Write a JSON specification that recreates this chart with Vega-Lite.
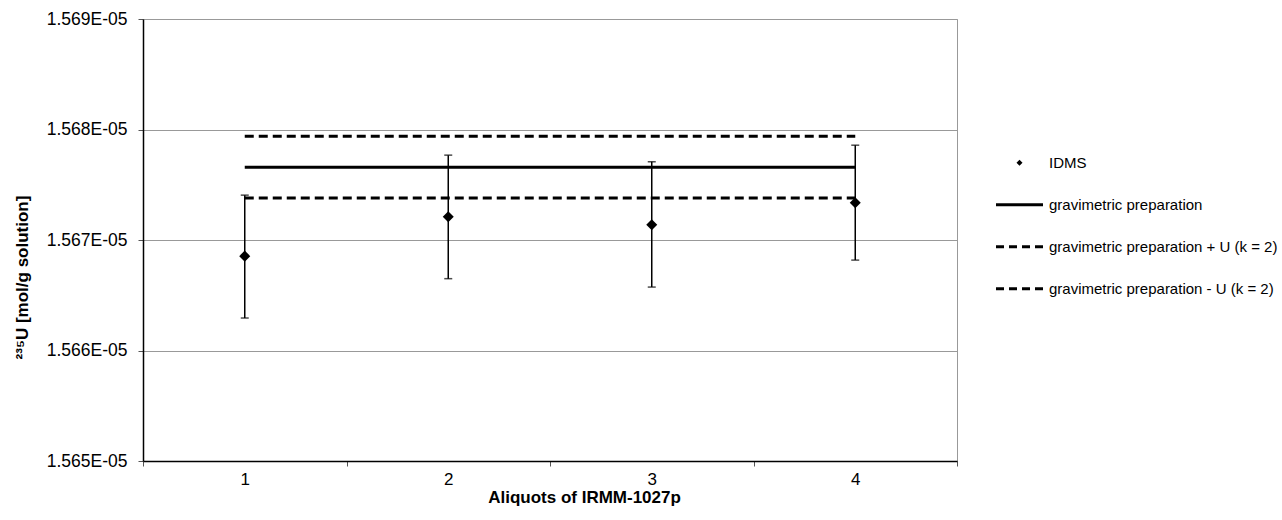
{
  "$schema": "https://vega.github.io/schema/vega-lite/v6.json",
  "autosize": {"type": "none"},
  "width": 814,
  "height": 442,
  "padding": {"left": 143, "top": 19, "right": 325, "bottom": 59},
  "background": "white",
  "config": {
    "font": "Liberation Sans",
    "view": {"stroke": "#999999", "strokeWidth": 1},
    "axis": {"labelFont": "Liberation Sans", "titleFont": "Liberation Sans", "labelColor": "black", "titleColor": "black"},
    "legend": {"labelFont": "Liberation Sans"}
  },
  "datasets": {
    "idms": [
      {"aliquot": 1, "series": "IDMS", "value": 1.566854e-5, "lo": 1.566294e-5, "hi": 1.567406e-5},
      {"aliquot": 2, "series": "IDMS", "value": 1.567211e-5, "lo": 1.566650e-5, "hi": 1.567768e-5},
      {"aliquot": 3, "series": "IDMS", "value": 1.567138e-5, "lo": 1.566574e-5, "hi": 1.567708e-5},
      {"aliquot": 4, "series": "IDMS", "value": 1.567337e-5, "lo": 1.566818e-5, "hi": 1.567858e-5}
    ],
    "grav": [
      {"aliquot": 1, "series": "gravimetric preparation", "value": 1.567659e-5},
      {"aliquot": 4, "series": "gravimetric preparation", "value": 1.567659e-5},
      {"aliquot": 1, "series": "gravimetric preparation + U (k = 2)", "value": 1.567940e-5},
      {"aliquot": 4, "series": "gravimetric preparation + U (k = 2)", "value": 1.567940e-5},
      {"aliquot": 1, "series": "gravimetric preparation - U (k = 2)", "value": 1.567379e-5},
      {"aliquot": 4, "series": "gravimetric preparation - U (k = 2)", "value": 1.567379e-5}
    ]
  },
  "layer": [
    {
      "data": {"name": "grav"},
      "mark": {"type": "line", "color": "black", "strokeWidth": 3},
      "encoding": {
        "x": {
          "field": "aliquot", "type": "quantitative", "title": "Aliquots of IRMM-1027p",
          "scale": {"domain": [0.5, 4.5], "nice": false, "zero": false},
          "axis": {
            "values": [0.5, 1, 1.5, 2, 2.5, 3, 3.5, 4, 4.5],
            "labelExpr": "datum.value % 1 === 0 ? format(datum.value, 'd') : ''",
            "tickOpacity": {"condition": {"test": "datum.value % 1 === 0", "value": 0}, "value": 1},
            "grid": false,
            "domainColor": "black", "domainWidth": 1.5,
            "tickColor": "#555555", "tickSize": 5, "tickWidth": 1,
            "labelFontSize": 17, "labelPadding": 5, "labelFlush": false, "labelOverlap": false,
            "titleFontSize": 17, "titleFontWeight": "bold",
            "titleX": 441, "titleY": 41, "titleBaseline": "alphabetic", "titleAlign": "center"
          }
        },
        "y": {
          "field": "value", "type": "quantitative", "title": "²³⁵U [mol/g solution]",
          "scale": {"domain": [1.565e-5, 1.569e-5], "nice": false, "zero": false},
          "axis": {
            "values": [1.565e-5, 1.566e-5, 1.567e-5, 1.568e-5, 1.569e-5],
            "labelExpr": "format(datum.value * 100000, '.3f') + 'E-05'",
            "grid": true, "gridColor": "#999999", "gridWidth": 1,
            "domainColor": "black", "domainWidth": 1.5,
            "tickColor": "#555555", "tickSize": 5, "tickWidth": 1,
            "labelFontSize": 17.5, "labelPadding": 11, "labelFlush": false, "labelOverlap": false,
            "titleFontSize": 17, "titleFontWeight": "bold",
            "titleX": -121, "titleY": 258, "titleAngle": -90, "titleBaseline": "middle", "titleAlign": "center"
          }
        },
        "strokeDash": {
          "field": "series", "type": "nominal", "legend": null,
          "scale": {
            "domain": ["gravimetric preparation", "gravimetric preparation + U (k = 2)", "gravimetric preparation - U (k = 2)"],
            "range": [[1, 0], [9, 5], [9, 5]]
          }
        }
      }
    },
    {
      "data": {"name": "idms"},
      "mark": {"type": "rule", "color": "black", "strokeWidth": 1.5},
      "encoding": {
        "x": {"field": "aliquot", "type": "quantitative", "title": "Aliquots of IRMM-1027p"},
        "y": {"field": "lo", "type": "quantitative", "title": "²³⁵U [mol/g solution]"},
        "y2": {"field": "hi"}
      }
    },
    {
      "data": {"name": "idms"},
      "mark": {"type": "tick", "orient": "horizontal", "color": "black", "size": 8, "thickness": 1.5},
      "encoding": {
        "x": {"field": "aliquot", "type": "quantitative", "title": "Aliquots of IRMM-1027p"},
        "y": {"field": "hi", "type": "quantitative", "title": "²³⁵U [mol/g solution]"}
      }
    },
    {
      "data": {"name": "idms"},
      "mark": {"type": "tick", "orient": "horizontal", "color": "black", "size": 8, "thickness": 1.5},
      "encoding": {
        "x": {"field": "aliquot", "type": "quantitative", "title": "Aliquots of IRMM-1027p"},
        "y": {"field": "lo", "type": "quantitative", "title": "²³⁵U [mol/g solution]"}
      }
    },
    {
      "data": {"name": "idms"},
      "mark": {"type": "point", "filled": true, "color": "black", "opacity": 1, "size": 5400, "strokeWidth": 0},
      "encoding": {
        "x": {"field": "aliquot", "type": "quantitative", "title": "Aliquots of IRMM-1027p"},
        "y": {"field": "value", "type": "quantitative", "title": "²³⁵U [mol/g solution]"},
        "shape": {
          "field": "series", "type": "nominal",
          "scale": {
            "domain": ["IDMS", "gravimetric preparation", "gravimetric preparation + U (k = 2)", "gravimetric preparation - U (k = 2)"],
            "range": [
              "M-0.15,0L0,-0.15L0.15,0L0,0.15Z",
              "M-1.175,-0.075H1.175V0.075H-1.175Z",
              "M-1.175,-0.075H-0.775V0.075H-1.175Z M-0.525,-0.075H-0.125V0.075H-0.525Z M0.125,-0.075H0.525V0.075H0.125Z M0.775,-0.075H1.175V0.075H0.775Z",
              "M-1.175,-0.075H-0.775V0.075H-1.175Z M-0.525,-0.075H-0.125V0.075H-0.525Z M0.125,-0.075H0.525V0.075H0.125Z M0.775,-0.075H1.175V0.075H0.775Z"
            ]
          },
          "legend": {
            "title": null,
            "orient": "none",
            "legendX": 856.5,
            "legendY": 123.7,
            "padding": 0,
            "symbolSize": 1600,
            "symbolFillColor": "black",
            "symbolStrokeColor": "black",
            "symbolStrokeWidth": 0,
            "symbolOpacity": 1,
            "labelFontSize": 15,
            "labelColor": "black",
            "labelOffset": 9.5,
            "rowPadding": 14,
            "labelLimit": 400
          }
        }
      }
    }
  ]
}
